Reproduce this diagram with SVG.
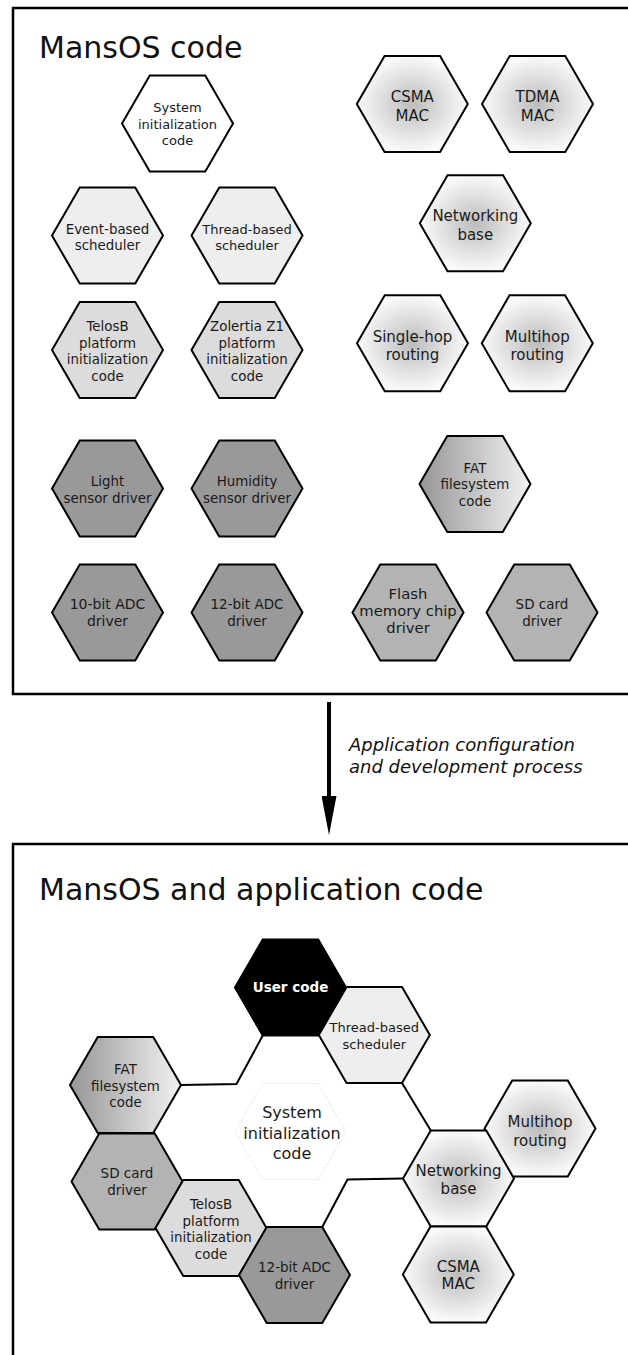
<svg xmlns="http://www.w3.org/2000/svg" xmlns:xlink="http://www.w3.org/1999/xlink" width="628" height="1355" viewBox="0 0 628 1355">
<style>
.panel{fill:#fff;stroke:#000;stroke-width:2.5}
.title{font-family:'DejaVu Sans',sans-serif;font-size:30px;fill:#111}
.hx{stroke:#000;stroke-width:2;stroke-linejoin:miter}
.f-white{fill:#fff}
.f-sched{fill:#eeeeee}
.f-plat{fill:#dcdcdc}
.f-sens{fill:#999999}
.f-mem{fill:#b3b3b3}
.f-net{fill:url(#netGrad)}
.f-fat{fill:url(#fatGrad)}
.f-user{fill:#000}
.ghost{fill:#fff;stroke:#efefef;stroke-width:1}
.lbl{font-family:'DejaVu Sans',sans-serif;font-size:13.4px;fill:#1a1a1a;text-anchor:middle}
.big{font-size:15px}
.sys{font-size:16px}
.user{font-weight:bold;fill:#fff;font-size:13.5px}
.conn{fill:none;stroke:#000;stroke-width:2}
.flow{fill:none;stroke:#000;stroke-width:4}
.note{font-family:'DejaVu Sans',sans-serif;font-size:18px;font-style:italic;fill:#111}
</style>
<defs>
<path id="hex" d="M-55.5 0 L-27.75 -48.06 L27.75 -48.06 L55.5 0 L27.75 48.06 L-27.75 48.06 Z"/>
<radialGradient id="netGrad" cx="0.5" cy="0.5" r="0.5">
<stop offset="0" stop-color="#bcbcbc"/>
<stop offset="1" stop-color="#fafafa"/>
</radialGradient>
<linearGradient id="fatGrad" x1="0" y1="0" x2="1" y2="0">
<stop offset="0" stop-color="#969696"/>
<stop offset="1" stop-color="#f2f2f2"/>
</linearGradient>
<marker id="arrow" viewBox="0 0 39 15" markerWidth="39" markerHeight="15" refX="3" refY="7.5" orient="auto" markerUnits="userSpaceOnUse">
<path d="M0 0 L39 7.5 L0 15 Z" fill="#000"/>
</marker>
</defs>

<!-- Top panel -->
<g id="panel-top">
<rect class="panel" x="13" y="8" width="640" height="686"/>
<text class="title" x="39" y="58">MansOS code</text>
</g>

<g id="t-sysinit"><use href="#hex" class="hx f-white" transform="translate(177.5,123.5)"/>
<text class="lbl" style="font-size:13px"><tspan x="177.5" y="112">System</tspan><tspan x="177.5" y="128.5">initialization</tspan><tspan x="177.5" y="145">code</tspan></text></g>

<g id="t-event"><use href="#hex" class="hx f-sched" transform="translate(107.5,235.5)"/>
<text class="lbl"><tspan x="107.5" y="233.5">Event-based</tspan><tspan x="107.5" y="250">scheduler</tspan></text></g>

<g id="t-thread"><use href="#hex" class="hx f-sched" transform="translate(247,235.5)"/>
<text class="lbl" style="font-size:13px"><tspan x="247" y="233.5">Thread-based</tspan><tspan x="247" y="250">scheduler</tspan></text></g>

<g id="t-telosb"><use href="#hex" class="hx f-plat" transform="translate(107.5,350)"/>
<text class="lbl"><tspan x="107.5" y="331">TelosB</tspan><tspan x="107.5" y="347.6">platform</tspan><tspan x="107.5" y="364.2">initialization</tspan><tspan x="107.5" y="380.8">code</tspan></text></g>

<g id="t-z1"><use href="#hex" class="hx f-plat" transform="translate(247,350)"/>
<text class="lbl"><tspan x="247" y="331">Zolertia Z1</tspan><tspan x="247" y="347.6">platform</tspan><tspan x="247" y="364.2">initialization</tspan><tspan x="247" y="380.8">code</tspan></text></g>

<g id="t-light"><use href="#hex" class="hx f-sens" transform="translate(107.5,488.5)"/>
<text class="lbl"><tspan x="107.5" y="486">Light</tspan><tspan x="107.5" y="503">sensor driver</tspan></text></g>

<g id="t-humidity"><use href="#hex" class="hx f-sens" transform="translate(247,488.5)"/>
<text class="lbl"><tspan x="247" y="486">Humidity</tspan><tspan x="247" y="503">sensor driver</tspan></text></g>

<g id="t-adc10"><use href="#hex" class="hx f-sens" transform="translate(107.5,612.5)"/>
<text class="lbl" style="font-size:14px"><tspan x="107.5" y="608.5">10-bit ADC</tspan><tspan x="107.5" y="625.5">driver</tspan></text></g>

<g id="t-adc12"><use href="#hex" class="hx f-sens" transform="translate(247,612.5)"/>
<text class="lbl" style="font-size:13.5px"><tspan x="247" y="608.5">12-bit ADC</tspan><tspan x="247" y="625.5">driver</tspan></text></g>

<g id="t-csma"><use href="#hex" class="hx f-net" transform="translate(412.3,104)"/>
<text class="lbl big"><tspan x="412.3" y="101.5">CSMA</tspan><tspan x="412.3" y="120.5">MAC</tspan></text></g>

<g id="t-tdma"><use href="#hex" class="hx f-net" transform="translate(537.5,104)"/>
<text class="lbl big"><tspan x="537.5" y="101.5">TDMA</tspan><tspan x="537.5" y="120.5">MAC</tspan></text></g>

<g id="t-netbase"><use href="#hex" class="hx f-net" transform="translate(475.3,223.3)"/>
<text class="lbl big"><tspan x="475.3" y="221.3">Networking</tspan><tspan x="475.3" y="240">base</tspan></text></g>

<g id="t-singlehop"><use href="#hex" class="hx f-net" transform="translate(412.5,343.3)"/>
<text class="lbl big"><tspan x="412.5" y="341.5">Single-hop</tspan><tspan x="412.5" y="360">routing</tspan></text></g>

<g id="t-multihop"><use href="#hex" class="hx f-net" transform="translate(537.3,343.3)"/>
<text class="lbl big"><tspan x="537.3" y="341.5">Multihop</tspan><tspan x="537.3" y="360">routing</tspan></text></g>

<g id="t-fat"><use href="#hex" class="hx f-fat" transform="translate(475,484)"/>
<text class="lbl"><tspan x="475" y="472.5">FAT</tspan><tspan x="475" y="489">filesystem</tspan><tspan x="475" y="505.5">code</tspan></text></g>

<g id="t-flash"><use href="#hex" class="hx f-mem" transform="translate(408,612.5)"/>
<text class="lbl" style="font-size:14.8px"><tspan x="408" y="599">Flash</tspan><tspan x="408" y="616">memory chip</tspan><tspan x="408" y="633">driver</tspan></text></g>

<g id="t-sdcard"><use href="#hex" class="hx f-mem" transform="translate(542,612.5)"/>
<text class="lbl" style="font-size:13.5px"><tspan x="542" y="608.5">SD card</tspan><tspan x="542" y="625.5">driver</tspan></text></g>

<!-- Process arrow -->
<g id="process">
<line class="flow" x1="329" y1="702" x2="329" y2="799" marker-end="url(#arrow)"/>
<text class="note"><tspan x="349" y="751">Application configuration</tspan><tspan x="349" y="773">and development process</tspan></text>
</g>

<!-- Bottom panel -->
<g id="panel-bottom">
<rect class="panel" x="13" y="844" width="640" height="600"/>
<text class="title" x="39" y="900">MansOS and application code</text>
</g>

<g id="b-sysinit"><use href="#hex" class="ghost" transform="translate(290.5,1131.6)"/>
<text class="lbl sys"><tspan x="292" y="1118">System</tspan><tspan x="292" y="1138.5">initialization</tspan><tspan x="292" y="1159">code</tspan></text></g>

<g id="connectors">
<polyline class="conn" points="262.75,1035.6 236.5,1084 181,1085"/>
<polyline class="conn" points="402,1083 430.75,1130.4"/>
<polyline class="conn" points="403,1178.5 347.5,1179.5 322.25,1227"/>
</g>

<g id="b-user"><use href="#hex" class="hx f-user" transform="translate(290.5,987.5)"/>
<text class="lbl user" x="290.5" y="991.7">User code</text></g>

<g id="b-thread"><use href="#hex" class="hx f-sched" transform="translate(374.3,1035)"/>
<text class="lbl" style="font-size:13px"><tspan x="374.3" y="1032.3">Thread-based</tspan><tspan x="374.3" y="1049.3">scheduler</tspan></text></g>

<g id="b-multihop"><use href="#hex" class="hx f-net" transform="translate(540,1128.5)"/>
<text class="lbl big"><tspan x="540" y="1126.7">Multihop</tspan><tspan x="540" y="1145.7">routing</tspan></text></g>

<g id="b-netbase"><use href="#hex" class="hx f-net" transform="translate(458.5,1178.5)"/>
<text class="lbl big"><tspan x="458.5" y="1176">Networking</tspan><tspan x="458.5" y="1194.3">base</tspan></text></g>

<g id="b-csma"><use href="#hex" class="hx f-net" transform="translate(458.3,1274.5)"/>
<text class="lbl big"><tspan x="458.3" y="1271.7">CSMA</tspan><tspan x="458.3" y="1289.3">MAC</tspan></text></g>

<g id="b-fat"><use href="#hex" class="hx f-fat" transform="translate(125.5,1085)"/>
<text class="lbl"><tspan x="125.5" y="1074">FAT</tspan><tspan x="125.5" y="1090.7">filesystem</tspan><tspan x="125.5" y="1107.3">code</tspan></text></g>

<g id="b-sdcard"><use href="#hex" class="hx f-mem" transform="translate(127,1181.5)"/>
<text class="lbl" style="font-size:13.5px"><tspan x="127" y="1177.5">SD card</tspan><tspan x="127" y="1194.5">driver</tspan></text></g>

<g id="b-telosb"><use href="#hex" class="hx f-plat" transform="translate(211,1228)"/>
<text class="lbl"><tspan x="211" y="1209">TelosB</tspan><tspan x="211" y="1225.6">platform</tspan><tspan x="211" y="1242.2">initialization</tspan><tspan x="211" y="1258.8">code</tspan></text></g>

<g id="b-adc12"><use href="#hex" class="hx f-sens" transform="translate(294.5,1275)"/>
<text class="lbl" style="font-size:13.5px"><tspan x="294.5" y="1271.5">12-bit ADC</tspan><tspan x="294.5" y="1288.5">driver</tspan></text></g>
</svg>
